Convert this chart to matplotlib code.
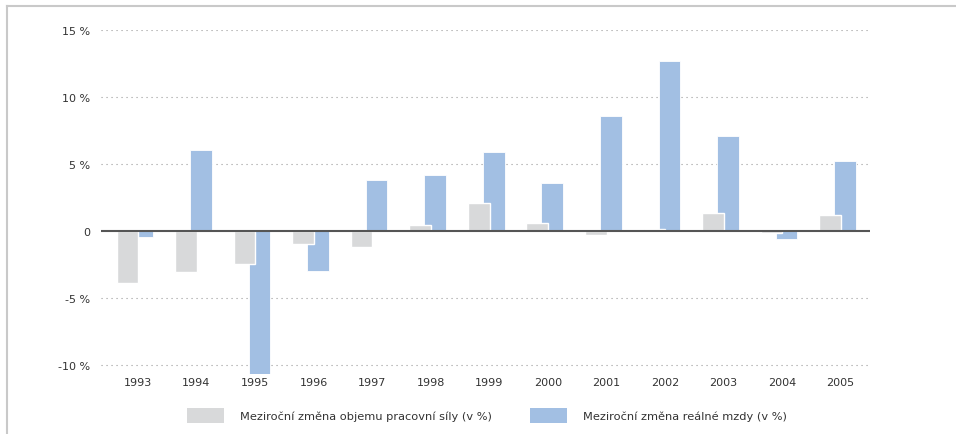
import matplotlib
matplotlib.use("Agg")
import matplotlib.pyplot as plt
import numpy as np
from matplotlib.patches import Patch
from matplotlib.lines import Line2D

years = ["1993", "1994", "1995", "1996", "1997", "1998", "1999",
         "2000", "2001", "2002", "2003", "2004", "2005"]
labour_force = [-3.9, -3.1, -2.5, -1.0, -1.2, 0.4, 2.1, 0.6, -0.3, 0.15, 1.3, -0.2, 1.2]
real_wage = [-0.5, 6.0, -10.7, -3.0, 3.8, 4.2, 5.9, 3.6, 8.6, 12.7, 7.1, -0.6, 5.2]
yticks = [-10, -5, 0, 5, 10, 15]
ytick_labels = ["-10 %", "-5 %", "0", "5 %", "10 %", "15 %"]
legend_labels = ["Meziroční změna objemu pracovní síly (v %)",
                 "Meziroční změna reálné mzdy (v %)"]

grey = "#d8d9da"
blue = "#a2bfe3"
text_col = "#333333"

plt.rcParams["font.family"] = ["DejaVu Sans"]
plt.rcParams["font.size"] = 8.0

fig = plt.figure(figsize=(9.56, 4.35), dpi=100)
ax = fig.add_axes([0.1057, 0.138, 0.8043, 0.7907])

x = np.arange(len(years))
width = 0.37
off = 0.128

ax.bar(x + off, real_wage, width, color=blue, edgecolor="white",
       linewidth=0.6, zorder=2)
ax.bar(x - off, labour_force, width, color=grey, edgecolor="white",
       linewidth=1.0, zorder=3)

ax.set_xlim(-0.58, 12.555)
ax.set_ylim(-10.7, 15)

for y in [-10, -5, 5, 10, 15]:
    ax.axhline(y, color="#9a9a9a", linewidth=0.8, linestyle=(0, (1, 3.5)), zorder=1)
ax.axhline(0, color="#555555", linewidth=1.5, zorder=4)

ax.set_yticks(yticks)
ax.set_yticklabels(ytick_labels)
ax.set_xticks(x + 0.05)
ax.set_xticklabels(years)
ax.tick_params(axis="both", length=0, colors=text_col, labelsize=8.0)
ax.tick_params(axis="y", pad=8)
ax.tick_params(axis="x", pad=2)
for s in ax.spines.values():
    s.set_visible(False)

handles = [Patch(facecolor=grey, edgecolor="none"),
           Patch(facecolor=blue, edgecolor="none")]
fig.legend(handles, legend_labels, loc="center", bbox_to_anchor=(0.509, 0.042),
           ncol=2, frameon=False, handlelength=3.25, handleheight=1.67,
           handletextpad=1.4, columnspacing=3.33, fontsize=8.2,
           labelcolor=text_col)

# light frame along the top and left edges
fig.add_artist(Line2D([7 / 956, 7 / 956], [0, 1 - 7 / 435],
                      transform=fig.transFigure, color="#c9c9c9", linewidth=1.5))
fig.add_artist(Line2D([7 / 956, 1], [1 - 7 / 435, 1 - 7 / 435],
                      transform=fig.transFigure, color="#c9c9c9", linewidth=1.5))

fig.savefig("out.png", dpi=100)
